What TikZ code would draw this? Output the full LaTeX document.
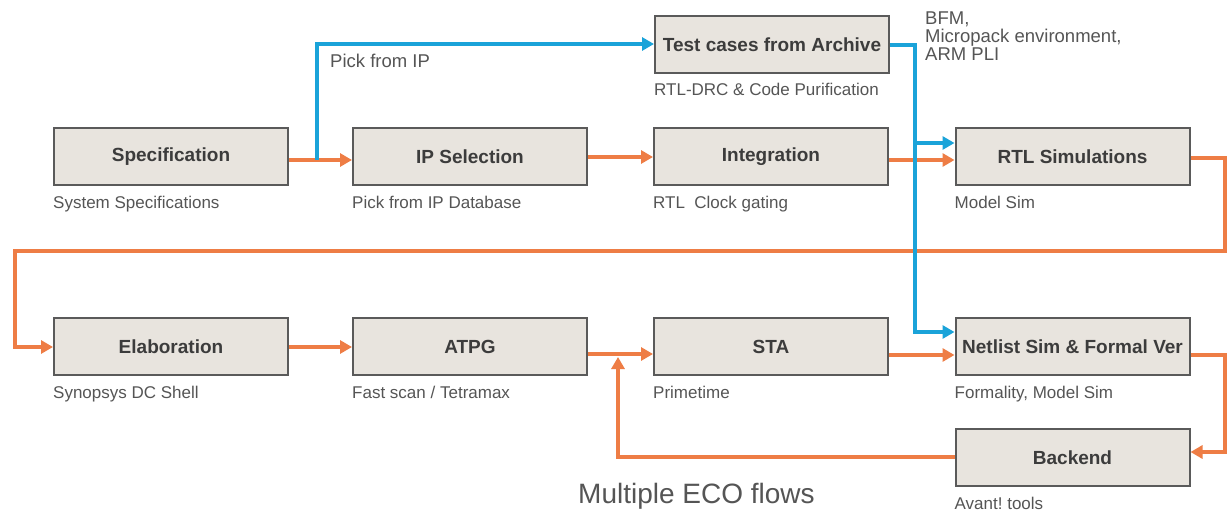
\documentclass[tikz,border=0pt]{standalone}
\usepackage{fontspec}
\setmainfont{Liberation Sans}
\usetikzlibrary{arrows.meta}
\frenchspacing
\definecolor{boxfill}{HTML}{E8E4DE}
\definecolor{boxline}{HTML}{5A5A5A}
\definecolor{boxtext}{HTML}{3C3C3C}
\definecolor{subtext}{HTML}{555555}
\definecolor{flow}{HTML}{EE7D45}
\definecolor{ipflow}{HTML}{1AA3D9}
\tikzset{
  stage/.style={draw=boxline, line width=2pt, fill=boxfill, minimum width=234pt,
    minimum height=57pt, inner sep=2pt, text=boxtext,
    font=\fontsize{19}{22}\selectfont\bfseries},
  tool/.style={anchor=base west, inner sep=0pt, text=subtext,
    font=\fontsize{17}{20}\selectfont},
  note/.style={inner sep=0pt, text=subtext, font=\fontsize{18.5}{18}\selectfont},
  tip/.style={-{Triangle[length=12pt,width=13pt]}},
  mainflow/.style={draw=flow, line width=4.5pt},
  pickflow/.style={draw=ipflow, line width=4.5pt},
}
\begin{document}
\begin{tikzpicture}[x=1pt, y=-1pt]
\useasboundingbox[fill=white] (0,0) rectangle (1228,513);

% process stages
\node[stage] (spec)  at (171,156.5)  {Specification};
\node[stage] (ip)    at (470,156.5)  {IP Selection};
\node[stage] (integ) at (771,156.5)  {Integration};
\node[stage] (rtl)   at (1072.5,156.5) {RTL Simulations};
\node[stage] (test)  at (772,44.5)   {Test cases from Archive};
\node[stage] (elab)  at (171,346.5)  {Elaboration};
\node[stage] (atpg)  at (470,346.5)  {ATPG};
\node[stage] (sta)   at (771,346.5)  {STA};
\node[stage] (net)   at (1072.5,346.5) {Netlist Sim \& Formal Ver};
\node[stage] (back)  at (1072.5,457.5) {Backend};

% tools used at each stage
\node[tool] (specT)  at ([yshift=-22pt]spec.south west)  {System Specifications};
\node[tool] (ipT)    at ([yshift=-22pt]ip.south west)    {Pick from IP Database};
\node[tool] (integT) at ([yshift=-22pt]integ.south west) {RTL\ \ Clock gating};
\node[tool] (rtlT)   at ([yshift=-22pt]rtl.south west)   {Model Sim};
\node[tool] (testT)  at ([yshift=-22pt]test.south west)  {RTL-DRC \& Code Purification};
\node[tool] (elabT)  at ([yshift=-22pt]elab.south west)  {Synopsys DC Shell};
\node[tool] (atpgT)  at ([yshift=-22pt]atpg.south west)  {Fast scan / Tetramax};
\node[tool] (staT)   at ([yshift=-22pt]sta.south west)   {Primetime};
\node[tool] (netT)   at ([yshift=-22pt]net.south west)   {Formality, Model Sim};
\node[tool] (backT)  at ([yshift=-22pt]back.south west)  {Avant! tools};

% free notes
\node[note, anchor=base west] (pick) at (330,68) {Pick from IP};
\node[note, anchor=north west, align=left] (env) at (925,12)
  {BFM,\\Micropack environment,\\ARM PLI};
\node[anchor=base west, inner sep=0pt, text=subtext,
  font=\fontsize{28}{30}\selectfont] (eco) at (578,503) {Multiple ECO flows};

% main design flow
\draw[mainflow, tip] (spec.east |- 0,160) -- (ip.west |- 0,160);
\draw[mainflow, tip] (ip.east |- 0,157) -- (integ.west |- 0,157);
\draw[mainflow, tip] (integ.east |- 0,160) -- (rtl.west |- 0,160);
\draw[mainflow, tip] (rtl.east |- 0,158) -- (1225,158) -- (1225,251)
  -- (15,251) -- (15,347) -- (elab.west |- 0,347);
\draw[mainflow, tip] (elab.east |- 0,347) -- (atpg.west |- 0,347);
\draw[mainflow, tip] (atpg.east |- 0,354) -- (sta.west |- 0,354);
\draw[mainflow, tip] (sta.east |- 0,355) -- (net.west |- 0,355);
\draw[mainflow, tip] (net.east |- 0,355) -- (1225,355) -- (1225,452)
  -- (back.east |- 0,452);
% ECO loop back into the timing step
\coordinate (ecoIn) at (618,357);
\draw[mainflow, tip] (back.west |- 0,457) -- (618,457) -- (ecoIn);

% IP / verification branch
\coordinate (pickOff) at (317,160);
\draw[pickflow, tip] (pickOff) -- (317,44) -- (test.west |- 0,44);
\draw[pickflow, tip] (test.east |- 0,45) -- (915,45) -- (915,332)
  -- (net.west |- 0,332);
\coordinate (simOff) at (915,143);
\draw[pickflow, tip] (simOff) -- (rtl.west |- 0,143);
\end{tikzpicture}
\end{document}
